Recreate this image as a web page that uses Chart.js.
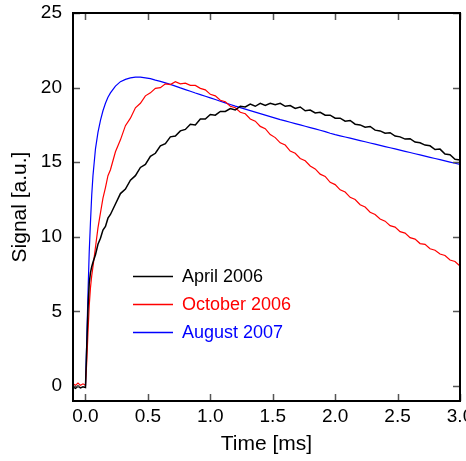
<!DOCTYPE html>
<html>
<head>
<meta charset="utf-8">
<script src="https://cdn.jsdelivr.net/npm/chart.js@4.4.1/dist/chart.umd.min.js"></script>
<style>
  html, body { margin: 0; padding: 0; background: #fff; }
  #wrap { width: 466px; height: 461px; }
</style>
</head>
<body>
<div id="wrap"><canvas id="signalChart" width="466" height="461"></canvas></div>
<script>
// time grid in ms
const timeMs = [
    -0.10, -0.08, -0.06, -0.04, -0.02, 0.00,
    0.01, 0.02, 0.03, 0.04, 0.05, 0.06, 0.08, 0.10, 0.12, 0.14, 0.16, 0.18, 0.20,
    0.24, 0.28, 0.32, 0.36, 0.40, 0.44, 0.48, 0.52, 0.56, 0.60,
    0.64, 0.68, 0.72, 0.76, 0.80, 0.84, 0.88, 0.92, 0.96, 1.00,
    1.04, 1.08, 1.12, 1.16, 1.20, 1.24, 1.28, 1.32, 1.36, 1.40,
    1.44, 1.48, 1.52, 1.56, 1.60, 1.64, 1.68, 1.72, 1.76, 1.80,
    1.84, 1.88, 1.92, 1.96, 2.00, 2.04, 2.08, 2.12, 2.16, 2.20,
    2.24, 2.28, 2.32, 2.36, 2.40, 2.44, 2.48, 2.52, 2.56, 2.60,
    2.64, 2.68, 2.72, 2.76, 2.80, 2.84, 2.88, 2.92, 2.96, 3.00
];

const april2006 = [
    -0.05, -0.15, 0.00, -0.12, -0.05, -0.10,
    2.6, 5.2, 6.9, 7.6, 8.0, 8.3, 8.8, 9.5, 9.9, 10.45, 10.7, 11.25, 11.5,
    12.2, 12.9, 13.2, 13.8, 14.1, 14.65, 14.85, 15.4, 15.6, 16.1,
    16.25, 16.7, 16.75, 17.1, 17.2, 17.55, 17.5, 17.9, 17.9, 18.2,
    18.15, 18.4, 18.4, 18.6, 18.5, 18.75, 18.7, 18.9, 18.75, 18.95,
    18.8, 18.95, 18.85, 18.95, 18.75, 18.8, 18.6, 18.7, 18.45, 18.5,
    18.3, 18.35, 18.15, 18.15, 17.95, 17.95, 17.75, 17.8, 17.55, 17.5,
    17.35, 17.4, 17.15, 17.1, 16.95, 16.98, 16.75, 16.7, 16.55, 16.58,
    16.35, 16.3, 16.15, 16.1, 15.85, 15.88, 15.55, 15.5, 15.2, 15.15
];

const october2006 = [
    0.15, 0.05, 0.20, 0.05, 0.15, 0.05,
    1.6, 3.6, 5.4, 6.6, 7.4, 8.0, 9.3, 10.6, 11.6, 12.6, 13.3, 14.1, 14.5,
    15.7, 16.5, 17.45, 17.95, 18.65, 18.95, 19.45, 19.65, 19.95, 20.0,
    20.25, 20.2, 20.4, 20.25, 20.3, 20.15, 20.15, 19.95, 19.85, 19.55,
    19.45, 19.15, 19.05, 18.75, 18.65, 18.35, 18.25, 17.9, 17.75, 17.4,
    17.25, 16.85, 16.65, 16.3, 16.15, 15.75, 15.6, 15.25, 15.1, 14.75,
    14.55, 14.2, 14.05, 13.65, 13.5, 13.15, 13.0, 12.65, 12.5, 12.15,
    12.0, 11.65, 11.5, 11.2, 11.05, 10.75, 10.65, 10.35, 10.25, 9.95,
    9.85, 9.55, 9.5, 9.2, 9.1, 8.85, 8.75, 8.45, 8.35, 8.05
];

const august2007 = [
    null, null, null, null, null, 0.0,
    3.0, 6.2, 9.0, 11.0, 12.8, 14.1, 15.9, 17.0, 17.8, 18.45, 18.95, 19.35, 19.65,
    20.1, 20.4, 20.55, 20.65, 20.7, 20.7, 20.65, 20.6, 20.5, 20.42,
    20.32, 20.22, 20.1, 19.98, 19.87, 19.76, 19.64, 19.53, 19.42, 19.31,
    19.2, 19.09, 18.98, 18.87, 18.76, 18.66, 18.56, 18.46, 18.36, 18.26,
    18.16, 18.06, 17.96, 17.86, 17.77, 17.68, 17.59, 17.5, 17.41, 17.32,
    17.23, 17.14, 17.05, 16.94, 16.85, 16.77, 16.69, 16.61, 16.53, 16.45,
    16.37, 16.29, 16.21, 16.13, 16.05, 15.97, 15.89, 15.81, 15.73, 15.65,
    15.57, 15.49, 15.41, 15.33, 15.25, 15.17, 15.09, 15.01, 14.93, 14.85
];

const seriesLabels = ['April 2006', 'October 2006', 'August 2007'];
const seriesColors = ['#000000', '#ff0000', '#0000ff'];

const xTicks = [0.0, 0.5, 1.0, 1.5, 2.0, 2.5, 3.0];
const yTicks = [0, 5, 10, 15, 20, 25];

Chart.defaults.font.family = "'Liberation Sans', Arial, Helvetica, sans-serif";
Chart.defaults.color = '#000';

function toPoints(vals) {
    return timeMs.map((t, i) => ({ x: t, y: vals[i] }));
}

// frame box with inward ticks on all four sides
const framePlugin = {
    id: 'frame',
    afterDatasetsDraw(chart) {
        const { ctx, chartArea: a, scales } = chart;
        const len = 7;
        ctx.save();
        ctx.strokeStyle = '#555';
        ctx.lineWidth = 1.5;
        ctx.beginPath();
        xTicks.forEach(v => {
            const px = Math.round(scales.x.getPixelForValue(v)) + 0.5;
            ctx.moveTo(px, a.bottom); ctx.lineTo(px, a.bottom - len);
            ctx.moveTo(px, a.top); ctx.lineTo(px, a.top + len);
        });
        yTicks.forEach(v => {
            const py = Math.round(scales.y.getPixelForValue(v)) + 0.5;
            ctx.moveTo(a.left, py); ctx.lineTo(a.left + len, py);
            ctx.moveTo(a.right, py); ctx.lineTo(a.right - len, py);
        });
        ctx.stroke();
        ctx.strokeStyle = '#000';
        ctx.lineWidth = 2;
        ctx.strokeRect(a.left, a.top, a.right - a.left, a.bottom - a.top);
        ctx.restore();
    }
};

// legend drawn inside the plot, like the original
const insideLegend = {
    id: 'insideLegend',
    afterDraw(chart) {
        const ctx = chart.ctx;
        ctx.save();
        ctx.font = "18px 'Liberation Sans', Arial, sans-serif";
        ctx.textBaseline = 'middle';
        chart.data.datasets.forEach((ds, i) => {
            const y = 276 + i * 28;
            ctx.strokeStyle = ds.borderColor;
            ctx.lineWidth = 1.3;
            ctx.beginPath();
            ctx.moveTo(133, y + 0.5);
            ctx.lineTo(173, y + 0.5);
            ctx.stroke();
            ctx.fillStyle = ds.borderColor;
            ctx.fillText(ds.label, 182, y + 1);
        });
        ctx.restore();
    }
};

const ctx = document.getElementById('signalChart').getContext('2d');
new Chart(ctx, {
    type: 'line',
    data: {
        datasets: [
            { label: seriesLabels[0], data: toPoints(april2006), borderColor: seriesColors[0], borderWidth: 1.5 },
            { label: seriesLabels[1], data: toPoints(october2006), borderColor: seriesColors[1], borderWidth: 1.2 },
            { label: seriesLabels[2], data: toPoints(august2007), borderColor: seriesColors[2], borderWidth: 1.2 }
        ]
    },
    options: {
        responsive: false,
        devicePixelRatio: 1,
        animation: false,
        elements: { point: { radius: 0 }, line: { tension: 0 } },
        layout: { padding: { top: 13, right: 6, bottom: 0, left: 0 } },
        plugins: { legend: { display: false }, tooltip: { enabled: false } },
        scales: {
            x: {
                type: 'linear',
                min: -0.1,
                max: 3.0,
                afterBuildTicks: s => { s.ticks = xTicks.map(v => ({ value: v })); },
                afterFit: s => { s.height = 60; s.paddingLeft = 0; s.paddingRight = 0; },
                grid: { display: false, drawTicks: false },
                border: { display: false },
                ticks: {
                    padding: 4,
                    font: { size: 19 },
                    color: '#000',
                    maxRotation: 0,
                    callback: v => v.toFixed(1)
                },
                title: {
                    display: true,
                    text: 'Time [ms]',
                    font: { size: 21 },
                    color: '#000',
                    padding: { top: 0, bottom: 4 }
                }
            },
            y: {
                min: -1,
                max: 25,
                afterBuildTicks: s => { s.ticks = yTicks.map(v => ({ value: v })); },
                afterFit: s => { s.width = 73; s.paddingTop = 0; s.paddingBottom = 0; },
                grid: { display: false, drawTicks: false },
                border: { display: false },
                ticks: {
                    padding: 11,
                    font: { size: 19 },
                    color: '#000',
                    callback: v => String(v)
                },
                title: {
                    display: true,
                    text: 'Signal [a.u.]',
                    font: { size: 21 },
                    color: '#000',
                    padding: { top: 8, bottom: 0 }
                }
            }
        }
    },
    plugins: [framePlugin, insideLegend]
});
</script>
</body>
</html>
